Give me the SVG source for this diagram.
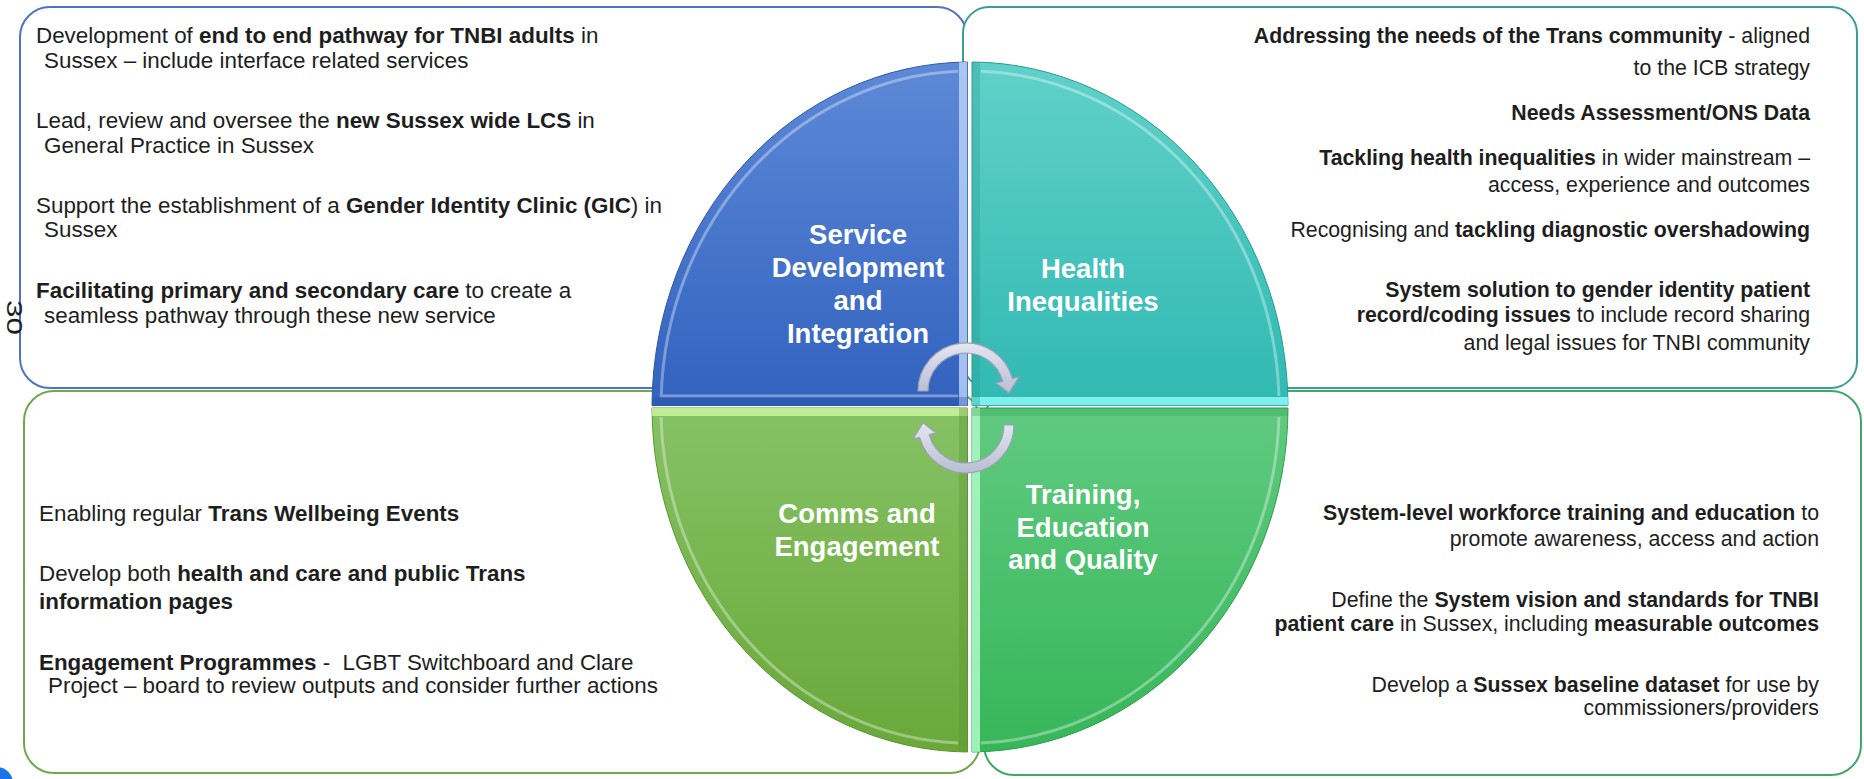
<svg xmlns="http://www.w3.org/2000/svg" width="1864" height="779" viewBox="0 0 1864 779">
  <style>
    .t { font-family: "Liberation Sans", Arial, sans-serif; font-size: 22.4px; fill: #1e1e1e; }
    .s { font-size: 21.3px; }
    .b { font-weight: bold; }
    .r { text-anchor: end; }
    .lbl { font-family: "Liberation Sans", Arial, sans-serif; font-size: 27.5px; font-weight: bold; fill: #ffffff; text-anchor: middle; }
    .box { fill: #ffffff; stroke-width: 2; }
    .hl { fill: none; stroke: #ffffff; stroke-opacity: 0.35; stroke-width: 3; }
    .arrow { fill: url(#gArrow); stroke: #9aa0b9; stroke-width: 1.2; }
  </style>
  <defs>
    <linearGradient id="gBlue" x1="0" y1="0" x2="0" y2="1">
      <stop offset="0" stop-color="#5d89d7"/>
      <stop offset="1" stop-color="#3262bf"/>
    </linearGradient>
    <linearGradient id="gTeal" x1="0" y1="0" x2="0" y2="1">
      <stop offset="0" stop-color="#60d1c9"/>
      <stop offset="1" stop-color="#30b9b2"/>
    </linearGradient>
    <linearGradient id="gLime" x1="0" y1="0" x2="0" y2="1">
      <stop offset="0" stop-color="#86c265"/>
      <stop offset="1" stop-color="#69a839"/>
    </linearGradient>
    <linearGradient id="gGreen" x1="0" y1="0" x2="0" y2="1">
      <stop offset="0" stop-color="#60ca80"/>
      <stop offset="1" stop-color="#36b659"/>
    </linearGradient>
    <linearGradient id="gArrow" x1="0" y1="0" x2="0" y2="1">
      <stop offset="0" stop-color="#e4e6f0"/>
      <stop offset="1" stop-color="#b9bed3"/>
    </linearGradient>
    <clipPath id="cTL"><path d="M967.5,405.5 H652 A318,345 0 0 1 967.5,62 Z"/></clipPath>
    <clipPath id="cTR"><path d="M972,405.5 V62 A318,345 0 0 1 1288,405.5 Z"/></clipPath>
    <clipPath id="cBR"><path d="M972,408 H1288 A318,345 0 0 1 972,752 Z"/></clipPath>
    <clipPath id="cBL"><path d="M967.5,408 V752 A318,345 0 0 1 652,408 Z"/></clipPath>
  </defs>

  <!-- text panels behind the wheel -->
  <g id="panel-service">
    <rect class="box" x="20" y="7" width="947" height="381" rx="30" stroke="#5072c2"/>
  </g>
  <g id="panel-health">
    <rect class="box" x="963" y="7" width="894" height="381" rx="26" stroke="#3a9e94"/>
  </g>
  <g id="panel-comms">
    <rect class="box" x="24" y="391" width="956" height="382" rx="30" stroke="#72a74e"/>
  </g>
  <g id="panel-training">
    <rect class="box" x="984" y="391" width="877" height="384" rx="30" stroke="#3fa866"/>
  </g>

  <!-- page number and corner mark -->
  <text class="t" font-size="23" transform="translate(7,300) rotate(90)" textLength="35" lengthAdjust="spacingAndGlyphs">30</text>
  <circle cx="-3" cy="783" r="16" fill="#1a73e8"/>

  <!-- wheel quadrants -->
  <g id="wheel-service">
    <path d="M967.5,405.5 H652 A318,345 0 0 1 967.5,62 Z" fill="url(#gBlue)" stroke="#2f58a8" stroke-width="1"/>
    <g clip-path="url(#cTL)">
      <path class="hl" d="M958,396 H661.2 A309,336 0 0 1 958,71.3"/>
      <rect x="959" y="60" width="8.5" height="346" fill="#b6d0f6" opacity="0.85"/>
      <rect x="650" y="397" width="318" height="9" fill="#284f9e" opacity="0.35"/>
    </g>
  </g>
  <g id="wheel-health">
    <path d="M972,405.5 V62 A318,345 0 0 1 1288,405.5 Z" fill="url(#gTeal)" stroke="#2a9c96" stroke-width="1"/>
    <g clip-path="url(#cTR)">
      <path class="hl" d="M981,71.3 A309,336 0 0 1 1279,396"/>
      <rect x="970" y="397" width="320" height="8.5" fill="#86f6f4" opacity="0.9"/>
      <rect x="972" y="60" width="8" height="346" fill="#2a9f98" opacity="0.35"/>
    </g>
  </g>
  <g id="wheel-training">
    <path d="M972,408 H1288 A318,345 0 0 1 972,752 Z" fill="url(#gGreen)" stroke="#2d9e4e" stroke-width="1"/>
    <g clip-path="url(#cBR)">
      <path class="hl" d="M1279,417 A309,336 0 0 1 981,743"/>
      <rect x="972" y="406" width="8" height="348" fill="#aaf5c2" opacity="0.9"/>
      <rect x="970" y="408" width="320" height="8" fill="#2f9f50" opacity="0.3"/>
    </g>
  </g>
  <g id="wheel-comms">
    <path d="M967.5,408 V752 A318,345 0 0 1 652,408 Z" fill="url(#gLime)" stroke="#5d9632" stroke-width="1"/>
    <g clip-path="url(#cBL)">
      <path class="hl" d="M958,743 A309,336 0 0 1 661,417"/>
      <rect x="650" y="408" width="318" height="8" fill="#c9f29c" opacity="0.9"/>
      <rect x="959" y="408" width="8.5" height="346" fill="#5a922f" opacity="0.35"/>
    </g>
  </g>

  <!-- cycle arrows -->
  <g id="connectors">
    <path class="arrow" d="M918,391 A48,48 0 0 1 1012.4,378.6 L1019.1,376.8 L1009,393 L995.9,383 L1002.7,381.2 A38,38 0 0 0 928,391 Z"/>
    <path class="arrow" d="M1004,425 A38,38 0 0 1 929.3,434.8 L936.1,433 L923.1,422.8 L912.9,439.2 L919.6,437.4 A48,48 0 0 0 1014,425 Z"/>
  </g>

  <!-- quadrant titles -->
  <g id="title-service">
    <text class="lbl" x="858" y="244">Service</text>
    <text class="lbl" x="858" y="277">Development</text>
    <text class="lbl" x="858" y="310">and</text>
    <text class="lbl" x="858" y="343">Integration</text>
  </g>
  <g id="title-health">
    <text class="lbl" x="1083" y="278">Health</text>
    <text class="lbl" x="1083" y="311">Inequalities</text>
  </g>
  <g id="title-comms">
    <text class="lbl" x="857" y="523">Comms and</text>
    <text class="lbl" x="857" y="556">Engagement</text>
  </g>
  <g id="title-training">
    <text class="lbl" x="1083" y="504">Training,</text>
    <text class="lbl" x="1083" y="537">Education</text>
    <text class="lbl" x="1083" y="569">and Quality</text>
  </g>

  <!-- panel texts -->
  <g id="text-service">
    <text class="t" x="36" y="43">Development of <tspan class="b">end to end pathway for TNBI adults</tspan> in</text>
    <text class="t" x="44" y="68">Sussex – include interface related services</text>
    <text class="t" x="36" y="128">Lead, review and oversee the <tspan class="b">new Sussex wide LCS</tspan> in</text>
    <text class="t" x="44" y="153">General Practice in Sussex</text>
    <text class="t" x="36" y="213">Support the establishment of a <tspan class="b">Gender Identity Clinic (GIC</tspan>) in</text>
    <text class="t" x="44" y="237">Sussex</text>
    <text class="t" x="36" y="298"><tspan class="b">Facilitating primary and secondary care</tspan> to create a</text>
    <text class="t" x="44" y="323">seamless pathway through these new service</text>
  </g>
  <g id="text-health">
    <text class="t s r" x="1810" y="43"><tspan class="b">Addressing the needs of the Trans community</tspan> - aligned</text>
    <text class="t s r" x="1810" y="75">to the ICB strategy</text>
    <text class="t s r b" x="1810" y="120">Needs Assessment/ONS Data</text>
    <text class="t s r" x="1810" y="165"><tspan class="b">Tackling health inequalities</tspan> in wider mainstream –</text>
    <text class="t s r" x="1810" y="192">access, experience and outcomes</text>
    <text class="t s r" x="1810" y="237">Recognising and <tspan class="b">tackling diagnostic overshadowing</tspan></text>
    <text class="t s r b" x="1810" y="297">System solution to gender identity patient</text>
    <text class="t s r" x="1810" y="322"><tspan class="b">record/coding issues</tspan> to include record sharing</text>
    <text class="t s r" x="1810" y="350">and legal issues for TNBI community</text>
  </g>
  <g id="text-comms">
    <text class="t" x="39" y="521">Enabling regular <tspan class="b">Trans Wellbeing Events</tspan></text>
    <text class="t" x="39" y="581">Develop both <tspan class="b">health and care and public Trans</tspan></text>
    <text class="t b" x="39" y="609">information pages</text>
    <text class="t" x="39" y="670" xml:space="preserve"><tspan class="b">Engagement Programmes</tspan> -  LGBT Switchboard and Clare</text>
    <text class="t" x="48" y="693">Project – board to review outputs and consider further actions</text>
  </g>
  <g id="text-training">
    <text class="t s r" x="1819" y="520"><tspan class="b">System-level workforce training and education</tspan> to</text>
    <text class="t s r" x="1819" y="546">promote awareness, access and action</text>
    <text class="t s r" x="1819" y="607">Define the <tspan class="b">System vision and standards for TNBI</tspan></text>
    <text class="t s r" x="1819" y="631"><tspan class="b">patient care</tspan> in Sussex, including <tspan class="b">measurable outcomes</tspan></text>
    <text class="t s r" x="1819" y="692">Develop a <tspan class="b">Sussex baseline dataset</tspan> for use by</text>
    <text class="t s r" x="1819" y="715">commissioners/providers</text>
  </g>
</svg>
